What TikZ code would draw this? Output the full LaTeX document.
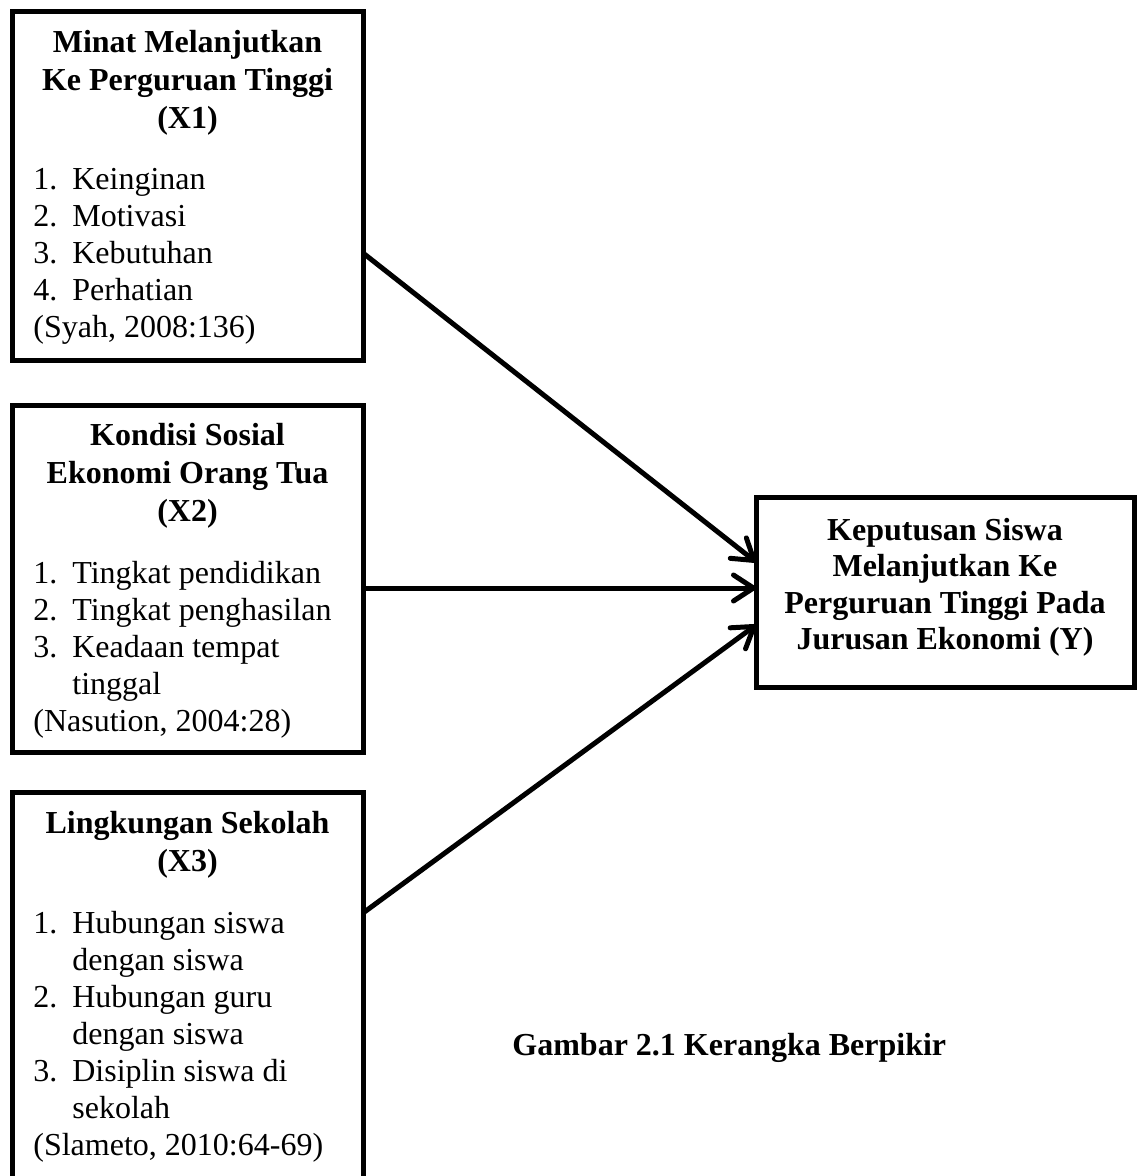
\documentclass[tikz,border=0pt]{standalone}
\usepackage{fontspec}
\setmainfont{Liberation Serif}
\usetikzlibrary{arrows.meta}
\newcommand\itm[2]{\makebox[19.5pt][l]{#1}#2}
\newcommand\ind{\hspace*{19.5pt}}
\begin{document}
\begin{tikzpicture}[x=0.5pt,y=-0.5pt,
  box/.style={draw, line width=2.5pt, rectangle, inner sep=0pt, outer sep=0pt, anchor=north west},
  ttl/.style={inner sep=0pt, anchor=base, font=\fontsize{16}{19}\selectfont\bfseries},
  lst/.style={inner sep=0pt, anchor=base west, font=\fontsize{16}{18.5}\selectfont},
  arr/.style={line width=2.5pt, -{Straight Barb[length=10pt,width=13pt,round]}}]
\useasboundingbox (0,0) rectangle (1139,1176);
\begin{scope}
\clip (0,0) rectangle (1139,1176);
% boxes
\node[box, minimum width=175.5pt, minimum height=174pt] (b1) at (12,12) {};
\node[box, minimum width=175.5pt, minimum height=173.5pt] (b2) at (12,405) {};
\node[box, minimum width=175.5pt, minimum height=200pt] (b3) at (12,792) {};
\node[box, minimum width=189pt, minimum height=95pt] (by) at (756,497) {};
\end{scope}
% box 1 text
\node[ttl] (t1) at (187.5,53) {\parbox[t]{175pt}{\centering Minat Melanjutkan\\ Ke Perguruan Tinggi\\ (X1)}};
\node[lst] (l1) at (33,190) {\parbox[t]{170pt}{\raggedright
  \itm{1.}{Keinginan}\\ \itm{2.}{Motivasi}\\ \itm{3.}{Kebutuhan}\\ \itm{4.}{Perhatian}\\ (Syah, 2008:136)}};
% box 2 text
\node[ttl] (t2) at (187.5,445) {\parbox[t]{175pt}{\centering Kondisi Sosial\\ Ekonomi Orang Tua\\ (X2)}};
\node[lst] (l2) at (33,583) {\parbox[t]{170pt}{\raggedright
  \itm{1.}{Tingkat pendidikan}\\ \itm{2.}{Tingkat penghasilan}\\ \itm{3.}{Keadaan tempat}\\ \ind tinggal\\ (Nasution, 2004:28)}};
% box 3 text
\node[ttl] (t3) at (187.5,833) {\parbox[t]{175pt}{\centering Lingkungan Sekolah\\ (X3)}};
\node[lst] (l3) at (33,933) {\parbox[t]{170pt}{\raggedright
  \itm{1.}{Hubungan siswa}\\ \ind dengan siswa\\ \itm{2.}{Hubungan guru}\\ \ind dengan siswa\\ \itm{3.}{Disiplin siswa di}\\ \ind sekolah\\ (Slameto, 2010:64-69)}};
% box Y text
\node[ttl, font=\fontsize{16}{18.3}\selectfont\bfseries] (ty) at (945,540) {\parbox[t]{185pt}{\centering Keputusan Siswa\\ Melanjutkan Ke\\ Perguruan Tinggi Pada\\ Jurusan Ekonomi (Y)}};
% caption
\node[inner sep=0pt, anchor=base west, font=\fontsize{16}{19}\selectfont\bfseries] (cap) at (512,1055) {Gambar 2.1 Kerangka Berpikir};
% arrows
\coordinate (s1) at (b1.east |- 0,253);
\coordinate (e1) at (by.west |- 0,562);
\coordinate (s2) at (b2.east |- 0,588);
\coordinate (e2) at (by.west |- 0,588);
\coordinate (s3) at (b3.east |- 0,913);
\coordinate (e3) at (by.west |- 0,625);
\draw[arr] (s1) -- (e1);
\draw[arr] (s2) -- (e2);
\draw[arr] (s3) -- (e3);
\end{tikzpicture}
\end{document}
